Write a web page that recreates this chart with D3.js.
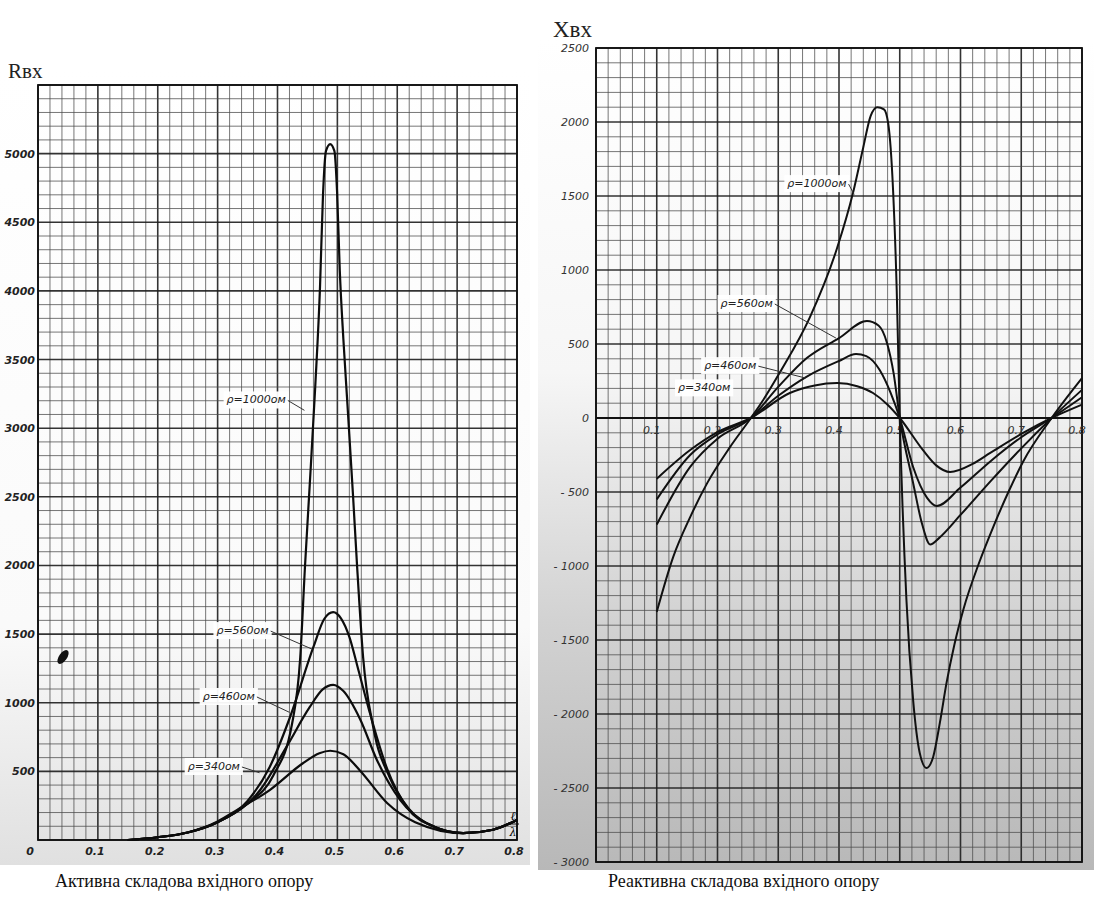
<!DOCTYPE html>
<html>
<head>
<meta charset="utf-8">
<script src="https://cdn.jsdelivr.net/npm/d3@7"></script>
<style>
  body { margin: 0; background: #fff; }
  svg { display: block; }
</style>
</head>
<body>
<svg id="chart" width="1100" height="899"></svg>
<script>
// ---- DATA ----
var rhoNames = ['ρ=1000ом', 'ρ=560ом', 'ρ=460ом', 'ρ=340ом'];

// Активна складова (Rвх), [l/λ, value]
var r1000 = [[0.15, 0], [0.2, 20], [0.25, 55], [0.3, 130], [0.35, 265], [0.393, 470], [0.424, 840], [0.438, 1330],
  [0.446, 2000], [0.454, 2600], [0.463, 3300], [0.471, 4029], [0.476, 4700], [0.481, 5020], [0.488, 5070],
  [0.495, 5020], [0.4995, 4720], [0.504, 4150], [0.51, 3650], [0.516, 3230], [0.526, 2520], [0.533, 1990],
  [0.543, 1330], [0.56, 820], [0.588, 450], [0.62, 225], [0.66, 100], [0.71, 50], [0.76, 75], [0.8, 146]];
var r560 = [[0.15, 0], [0.2, 20], [0.25, 55], [0.3, 130], [0.35, 285], [0.387, 532], [0.421, 896], [0.46, 1406],
  [0.478, 1610], [0.493, 1660], [0.506, 1615], [0.52, 1480], [0.535, 1240], [0.554, 930], [0.583, 520],
  [0.616, 240], [0.66, 100], [0.71, 50], [0.76, 75], [0.8, 146]];
var r460 = [[0.15, 0], [0.2, 20], [0.25, 55], [0.3, 130], [0.371, 364], [0.415, 678], [0.454, 969], [0.475, 1095],
  [0.493, 1130], [0.51, 1085], [0.538, 880], [0.566, 583], [0.605, 291], [0.65, 120], [0.71, 50], [0.76, 75], [0.8, 146]];
var r340 = [[0.15, 0], [0.2, 20], [0.25, 55], [0.3, 135], [0.332, 218], [0.387, 364], [0.443, 561], [0.47, 632],
  [0.488, 650], [0.51, 625], [0.538, 505], [0.583, 270], [0.63, 130], [0.71, 50], [0.76, 75], [0.8, 146]];

// Реактивна складова (Xвх)
var x1000 = [[0.1, -1310], [0.127, -940], [0.155, -670], [0.183, -440], [0.22, -200], [0.255, 0], [0.275, 120],
  [0.303, 310], [0.352, 680], [0.397, 1150], [0.423, 1520], [0.44, 1830], [0.452, 2040], [0.463, 2100],
  [0.474, 2085], [0.481, 1990], [0.489, 1540], [0.495, 865], [0.5, 0], [0.511, -1230], [0.522, -1905],
  [0.533, -2265], [0.544, -2365], [0.555, -2290], [0.566, -2060], [0.577, -1790], [0.59, -1530], [0.605, -1290],
  [0.63, -985], [0.654, -735], [0.68, -490], [0.703, -295], [0.75, 0], [0.8, 270]];
var x560 = [[0.1, -720], [0.155, -330], [0.2, -140], [0.255, 0], [0.3, 210], [0.347, 405], [0.4, 540], [0.446, 655],
  [0.465, 625], [0.479, 507], [0.49, 300], [0.5, 0], [0.522, -439], [0.537, -720], [0.55, -855], [0.565, -810],
  [0.6, -655], [0.65, -425], [0.7, -205], [0.75, 0], [0.8, 190]];
var x460 = [[0.1, -550], [0.155, -250], [0.2, -110], [0.255, 0], [0.3, 150], [0.347, 280], [0.4, 385], [0.428, 432],
  [0.445, 418], [0.467, 324], [0.485, 170], [0.5, 0], [0.522, -331], [0.545, -540], [0.561, -595], [0.6, -470],
  [0.65, -290], [0.7, -130], [0.75, 0], [0.8, 140]];
var x340 = [[0.1, -410], [0.155, -216], [0.2, -95], [0.255, 0], [0.319, 169], [0.36, 220], [0.397, 236], [0.43, 215],
  [0.456, 169], [0.48, 90], [0.5, 0], [0.538, -216], [0.56, -320], [0.583, -365], [0.62, -310], [0.649, -236],
  [0.703, -101], [0.75, 0], [0.8, 90]];

var xTicks = [0.1, 0.2, 0.3, 0.4, 0.5, 0.6, 0.7, 0.8];
var rTicks = [500, 1000, 1500, 2000, 2500, 3000, 3500, 4000, 4500, 5000];
var xvTicks = [2500, 2000, 1500, 1000, 500, 0, -500, -1000, -1500, -2000, -2500, -3000];

// label anchors in data units: [text x, text y, leader end x, leader end y]
var rLabelPos = [[0.315, 3180, 0.445, 3130], [0.298, 1500, 0.458, 1390], [0.275, 1020, 0.42, 930], [0.25, 510, 0.37, 490]];
var xLabelPos = [[0.315, 1560, 0.425, 1510], [0.205, 750, 0.395, 540], [0.178, 330, 0.345, 270], [0.135, 180, null, null]];

var svg = d3.select('#chart');
var defs = svg.append('defs');

var gr = defs.append('linearGradient').attr('id', 'shadeR').attr('x1', 0).attr('y1', 0).attr('x2', 0).attr('y2', 1);
gr.append('stop').attr('offset', '0%').attr('stop-color', '#ffffff');
gr.append('stop').attr('offset', '40%').attr('stop-color', '#f6f6f6');
gr.append('stop').attr('offset', '70%').attr('stop-color', '#d2d2d2');
gr.append('stop').attr('offset', '100%').attr('stop-color', '#b8b8b8');

var gl = defs.append('linearGradient').attr('id', 'shadeL').attr('x1', 0).attr('y1', 0).attr('x2', 0).attr('y2', 1);
gl.append('stop').attr('offset', '0%').attr('stop-color', '#ffffff');
gl.append('stop').attr('offset', '70%').attr('stop-color', '#fafafa');
gl.append('stop').attr('offset', '100%').attr('stop-color', '#e0e0e0');

// ---- SCALES ----
var xL = d3.scaleLinear().domain([0, 0.8]).range([38, 517]);
var yL = d3.scaleLinear().domain([0, 5500]).range([840, 85]);
var xR = d3.scaleLinear().domain([0, 0.8]).range([596, 1082]);
var yR = d3.scaleLinear().domain([-3000, 2500]).range([862, 48]);

svg.append('rect').attr('x', 0).attr('y', 70).attr('width', 530).attr('height', 795).attr('fill', 'url(#shadeL)');
svg.append('rect').attr('x', 538).attr('y', 40).attr('width', 556).attr('height', 830).attr('fill', 'url(#shadeR)');

// papel milimetrado
function grid(g, x, y, xs, ys, xEvery, yEvery) {
    var x0 = x.domain()[0], x1 = x.domain()[1], y0 = y.domain()[0], y1 = y.domain()[1];
    var xv = d3.range(Math.round(x0 / xs), Math.round(x1 / xs) + 1);
    var yv = d3.range(Math.round(y0 / ys), Math.round(y1 / ys) + 1);
    xv.forEach(function (i) {
        var major = i % xEvery === 0;
        g.append('line')
            .attr('x1', x(i * xs)).attr('x2', x(i * xs))
            .attr('y1', y(y0)).attr('y2', y(y1))
            .attr('stroke', major ? '#1e1e1e' : '#4a4a4a')
            .attr('stroke-width', major ? 1.6 : 1)
            .attr('opacity', major ? 0.9 : 0.75);
    });
    yv.forEach(function (i) {
        var major = i % yEvery === 0;
        g.append('line')
            .attr('y1', y(i * ys)).attr('y2', y(i * ys))
            .attr('x1', x(x0)).attr('x2', x(x1))
            .attr('stroke', major ? '#1e1e1e' : '#4a4a4a')
            .attr('stroke-width', major ? 1.6 : 1)
            .attr('opacity', major ? 0.9 : 0.75);
    });
    g.append('rect')
        .attr('x', x(x0)).attr('y', y(y1))
        .attr('width', x(x1) - x(x0)).attr('height', y(y0) - y(y1))
        .attr('fill', 'none').attr('stroke', '#111').attr('stroke-width', 1.8);
}

var gL = svg.append('g');
grid(gL, xL, yL, 0.02, 100, 5, 5);
var gR = svg.append('g');
grid(gR, xR, yR, 0.02, 100, 5, 5);

// eje cero del grafico reactivo
gR.append('line').attr('x1', xR(0)).attr('x2', xR(0.8)).attr('y1', yR(0)).attr('y2', yR(0))
    .attr('stroke', '#111').attr('stroke-width', 2);

// ---- TICK LABELS ----
var tickFontL = "italic bold 11px 'DejaVu Sans', sans-serif";
var tickFontR = "italic 11px 'DejaVu Sans', sans-serif";
gL.selectAll('.ty').data(rTicks).enter().append('text')
    .attr('x', 35).attr('y', function (d) { return yL(d) + 4; })
    .attr('text-anchor', 'end').style('font', tickFontL).attr('fill', '#222')
    .text(function (d) { return d; });
gL.selectAll('.tx').data(xTicks).enter().append('text')
    .attr('x', function (d) { return xL(d) - 3; }).attr('y', 855)
    .attr('text-anchor', 'middle').style('font', tickFontL).attr('fill', '#222')
    .text(function (d) { return d.toFixed(1); });
gL.append('text').attr('x', 30).attr('y', 855).attr('text-anchor', 'middle')
    .style('font', tickFontL).attr('fill', '#222').text('0');
// l / λ
gL.append('text').attr('x', 513).attr('y', 820).attr('text-anchor', 'middle')
    .style('font', "italic 12px 'DejaVu Serif', serif").text('ℓ');
gL.append('line').attr('x1', 507).attr('x2', 519).attr('y1', 824).attr('y2', 824).attr('stroke', '#111');
gL.append('text').attr('x', 513).attr('y', 836).attr('text-anchor', 'middle')
    .style('font', "italic 11px 'DejaVu Serif', serif").text('λ');

gR.selectAll('.ty').data(xvTicks).enter().append('text')
    .attr('x', 589).attr('y', function (d) { return yR(d) + 4; })
    .attr('text-anchor', 'end').style('font', tickFontR).attr('fill', '#333')
    .text(function (d) { return d < 0 ? '- ' + Math.abs(d) : d; });
gR.selectAll('.tx').data(xTicks).enter().append('text')
    .attr('x', function (d) { return xR(d) - 5; }).attr('y', yR(0) + 16)
    .attr('text-anchor', 'middle').style('font', tickFontR).attr('fill', '#333')
    .text(function (d) { return d.toFixed(1); });

// ---- CURVES ----
var lineL = d3.line().x(function (d) { return xL(d[0]); }).y(function (d) { return yL(d[1]); }).curve(d3.curveMonotoneX);
var lineR = d3.line().x(function (d) { return xR(d[0]); }).y(function (d) { return yR(d[1]); }).curve(d3.curveMonotoneX);

[r1000, r560, r460, r340].forEach(function (s) {
    gL.append('path').attr('d', lineL(s)).attr('fill', 'none').attr('stroke', '#0c0c0c')
        .attr('stroke-width', 2.2).attr('stroke-linejoin', 'round');
});
[x1000, x560, x460, x340].forEach(function (s) {
    gR.append('path').attr('d', lineR(s)).attr('fill', 'none').attr('stroke', '#111')
        .attr('stroke-width', 2).attr('stroke-linejoin', 'round');
});

// ---- CURVE LABELS ----
var lblFont = "italic 11px 'DejaVu Sans', sans-serif";
function labels(g, x, y, pos) {
    pos.forEach(function (p, i) {
        var t = g.append('text').attr('x', x(p[0])).attr('y', y(p[1]))
            .style('font', lblFont).attr('fill', '#222').text(rhoNames[i]);
        var bb = t.node().getBBox();
        g.insert('rect', function () { return t.node(); })
            .attr('x', bb.x - 3).attr('y', bb.y - 2).attr('width', bb.width + 6).attr('height', bb.height + 4)
            .attr('fill', '#fff').attr('opacity', 0.95);
        if (p[2] !== null) {
            g.append('line')
                .attr('x1', bb.x + bb.width + 2).attr('y1', y(p[1]) - 3)
                .attr('x2', x(p[2])).attr('y2', y(p[3]))
                .attr('stroke', '#333').attr('stroke-width', 1);
        }
    });
}
labels(gL, xL, yL, rLabelPos);
labels(gR, xR, yR, xLabelPos);

// mancha de tinta del escaneo
svg.append('ellipse').attr('cx', 63).attr('cy', 657).attr('rx', 4).attr('ry', 8)
    .attr('transform', 'rotate(35,63,657)').attr('fill', '#111');

// ---- TITULOS ----
svg.append('text').attr('x', 8).attr('y', 78)
    .style('font', "21px 'Liberation Serif', serif").attr('fill', '#222').text('Rвх');
svg.append('text').attr('x', 553).attr('y', 37)
    .style('font', "23px 'Liberation Serif', serif").attr('fill', '#222').text('Xвх');
svg.append('text').attr('x', 55).attr('y', 887)
    .style('font', "18px 'Liberation Serif', serif").attr('fill', '#111').text('Активна складова вхідного опору');
svg.append('text').attr('x', 608).attr('y', 887)
    .style('font', "18px 'Liberation Serif', serif").attr('fill', '#111').text('Реактивна складова вхідного опору');
</script>
</body>
</html>
